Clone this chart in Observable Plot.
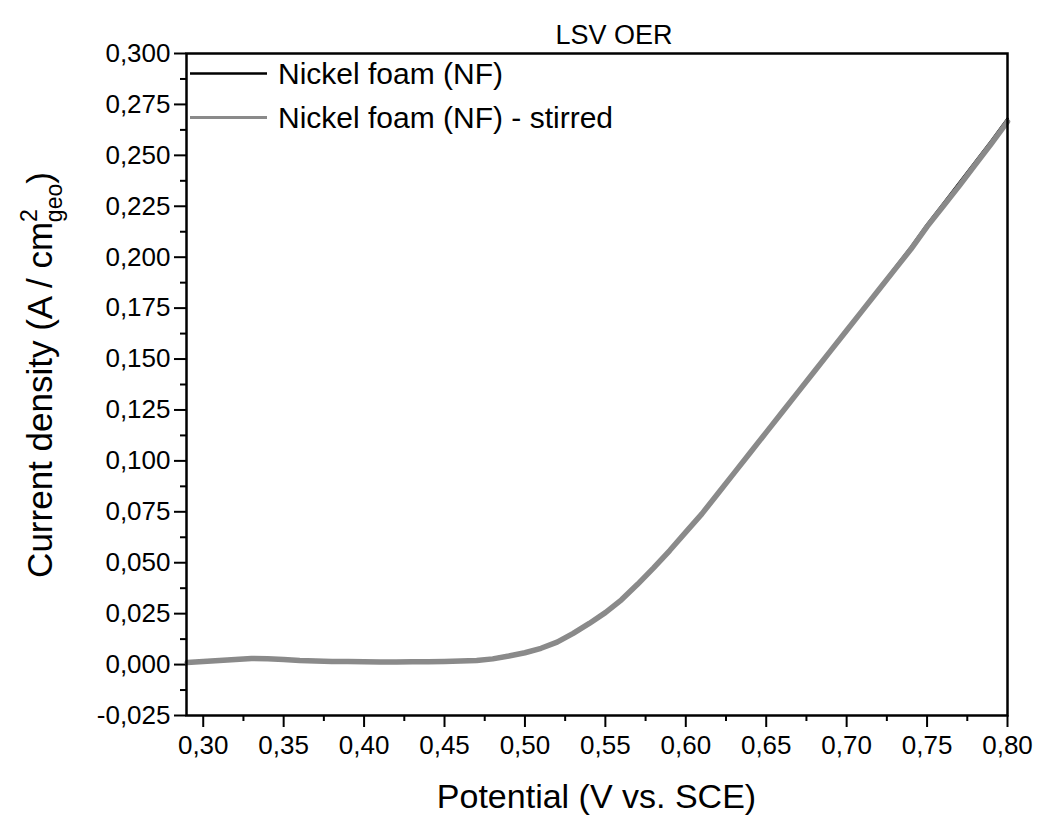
<!DOCTYPE html>
<html>
<head>
<meta charset="utf-8">
<script src="https://cdn.jsdelivr.net/npm/d3@7"></script>
<script src="https://cdn.jsdelivr.net/npm/@observablehq/plot@0.6"></script>
<style>
  html, body { margin: 0; padding: 0; background: white; }
  #chart { width: 1040px; height: 818px; position: relative; }
</style>
</head>
<body>
<div id="chart"></div>
<script>
// ---- Data ----
const potential = [0.29, 0.30, 0.31, 0.32, 0.33, 0.34, 0.35, 0.36, 0.37, 0.38, 0.39,
  0.40, 0.41, 0.42, 0.43, 0.44, 0.45, 0.46, 0.47, 0.48, 0.49,
  0.50, 0.51, 0.52, 0.53, 0.54, 0.55, 0.56, 0.57, 0.58, 0.59,
  0.60, 0.61, 0.62, 0.63, 0.64, 0.65, 0.66, 0.67, 0.68, 0.69,
  0.70, 0.71, 0.72, 0.73, 0.74, 0.75, 0.76, 0.77, 0.78, 0.79, 0.80];
const nfCurrent = [0.0012, 0.0016, 0.0021, 0.0026, 0.0031, 0.0029, 0.0025, 0.0021, 0.0018, 0.0016, 0.0015,
  0.0014, 0.0013, 0.0013, 0.0014, 0.0014, 0.0015, 0.0017, 0.0021, 0.0031, 0.0046,
  0.0062, 0.0082, 0.0111, 0.0155, 0.0203, 0.0255, 0.0320, 0.0395, 0.0477, 0.0562,
  0.0652, 0.0744, 0.0842, 0.0942, 0.1042, 0.1142, 0.1242, 0.1342, 0.1442, 0.1542,
  0.1642, 0.1742, 0.1845, 0.1948, 0.2050, 0.2160, 0.2262, 0.2365, 0.2468, 0.2572, 0.2680];
const nfStirredCurrent = [0.0010, 0.0015, 0.0020, 0.0025, 0.0030, 0.0028, 0.0025, 0.0020, 0.0018, 0.0015, 0.0015,
  0.0014, 0.0013, 0.0013, 0.0014, 0.0014, 0.0015, 0.0017, 0.0020, 0.0028, 0.0042,
  0.0058, 0.0080, 0.0110, 0.0153, 0.0202, 0.0255, 0.0318, 0.0394, 0.0475, 0.0560,
  0.0650, 0.0740, 0.0840, 0.0940, 0.1040, 0.1140, 0.1240, 0.1340, 0.1440, 0.1540,
  0.1640, 0.1740, 0.1840, 0.1940, 0.2040, 0.2150, 0.2250, 0.2350, 0.2455, 0.2558, 0.2665];

const seriesNames = ["Nickel foam (NF)", "Nickel foam (NF) - stirred"];
const seriesColors = ["#000000", "#8a8a8a"];

const xTicks = [0.30, 0.35, 0.40, 0.45, 0.50, 0.55, 0.60, 0.65, 0.70, 0.75, 0.80];
const xMinorTicks = [0.325, 0.375, 0.425, 0.475, 0.525, 0.575, 0.625, 0.675, 0.725, 0.775];
const yTicks = [-0.025, 0, 0.025, 0.05, 0.075, 0.1, 0.125, 0.15, 0.175, 0.2, 0.225, 0.25, 0.275, 0.3];
const yMinorTicks = [-0.0125, 0.0125, 0.0375, 0.0625, 0.0875, 0.1125, 0.1375, 0.1625, 0.1875, 0.2125, 0.2375, 0.2625, 0.2875];

const titleText = "LSV OER";
const xLabel = "Potential (V vs. SCE)";

// ---- Build ----
const nfData = potential.map((x, i) => ({x, y: nfCurrent[i]}));
const stirredData = potential.map((x, i) => ({x, y: nfStirredCurrent[i]}));
const font = "'Liberation Sans', Arial, sans-serif";

const chart = Plot.plot({
  width: 1040,
  height: 818,
  marginLeft: 186,
  marginRight: 33,
  marginTop: 53,
  marginBottom: 103,
  style: {fontFamily: font, fontSize: "26px", color: "black", background: "white", overflow: "visible"},
  x: {domain: [0.2896, 0.80]},
  y: {domain: [-0.025, 0.30]},
  marks: [
    Plot.axisX({ticks: xMinorTicks, tickSize: 6, strokeWidth: 2, tickFormat: () => "", label: null}),
    Plot.axisX({ticks: xTicks, tickSize: 12, strokeWidth: 2, tickPadding: 8, fontSize: 26,
      tickFormat: d => d.toFixed(2).replace(".", ","), label: null}),
    Plot.axisY({ticks: yMinorTicks, tickSize: 6, strokeWidth: 2, tickFormat: () => "", label: null}),
    Plot.axisY({ticks: yTicks, tickSize: 12, strokeWidth: 2, tickPadding: 4, fontSize: 26,
      tickFormat: d => d.toFixed(3).replace(".", ","), label: null}),
    Plot.line(nfData, {x: "x", y: "y", stroke: seriesColors[0], strokeWidth: 2.5}),
    Plot.line(stirredData, {x: "x", y: "y", stroke: seriesColors[1], strokeWidth: 5.5}),
    Plot.frame({stroke: "black", strokeWidth: 2.5})
  ]
});
document.getElementById("chart").appendChild(chart);

const svg = d3.select(chart);
const xs = chart.scale("x");
const cx = (xs.range[0] + xs.range[1]) / 2;

// Title
svg.append("text").attr("x", 614).attr("y", 44).attr("text-anchor", "middle")
  .attr("font-family", font).attr("font-size", 27).attr("fill", "black").text(titleText);

// X axis label
svg.append("text").attr("x", cx).attr("y", 808).attr("text-anchor", "middle")
  .attr("font-family", font).attr("font-size", 34).attr("fill", "black").text(xLabel);

// Y axis label with superscript/subscript
const yl = svg.append("text")
  .attr("transform", `translate(52,375) rotate(-90)`)
  .attr("text-anchor", "middle")
  .attr("font-family", font).attr("font-size", 35).attr("fill", "black");
yl.append("tspan").text("Current density (A / cm");
yl.append("tspan").attr("font-size", 23).attr("dy", -15).text("2");
yl.append("tspan").attr("font-size", 23).attr("dx", -13).attr("dy", 25).text("geo");
yl.append("tspan").attr("dy", -10).text(")");

// Legend
const lg = svg.append("g");
seriesNames.forEach((name, i) => {
  const y = 73.5 + i * 44;
  lg.append("line").attr("x1", 190).attr("x2", 267).attr("y1", y).attr("y2", y)
    .attr("stroke", seriesColors[i]).attr("stroke-width", i === 0 ? 2.5 : 3);
  lg.append("text").attr("x", 278).attr("y", y + 10.5).attr("text-anchor", "start")
    .attr("font-family", font).attr("font-size", 30).attr("fill", "black").text(name);
});
</script>
</body>
</html>
